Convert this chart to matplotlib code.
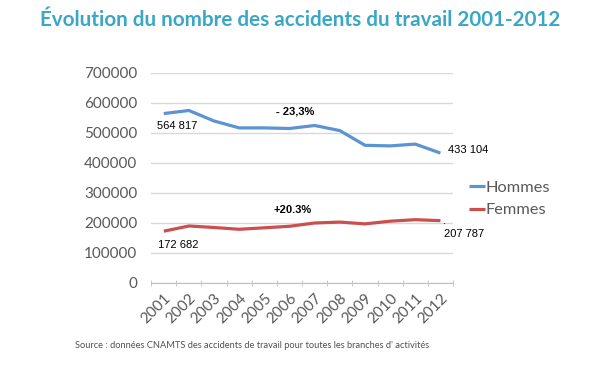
import matplotlib
matplotlib.use('Agg')
import matplotlib.pyplot as plt
import numpy as np

# données
annees = ['2001', '2002', '2003', '2004', '2005', '2006',
          '2007', '2008', '2009', '2010', '2011', '2012']
hommes = [564817, 575000, 540000, 517000, 517000, 515000,
          525000, 508000, 459000, 457000, 463000, 433104]
femmes = [172682, 190000, 185000, 179000, 184000, 189000,
          200000, 203000, 197000, 206000, 211000, 207787]
yticks = [0, 100000, 200000, 300000, 400000, 500000, 600000, 700000]

bleu = '#5b93d3'
rouge = '#c9504f'
gris = '#595959'
fonte = ['Lato', 'DejaVu Sans']
arial = ['Liberation Sans', 'DejaVu Sans']

fig = plt.figure(figsize=(6, 3.65), dpi=100)
ax = fig.add_axes([0.252, 0.2247, 0.503, 0.5753])

x = np.arange(len(annees))
ax.plot(x, hommes, color=bleu, lw=2.3, label='Hommes', solid_capstyle='butt')
ax.plot(x, femmes, color=rouge, lw=2.3, label='Femmes', solid_capstyle='butt')

ax.set_xlim(-0.5, len(annees) - 0.5)
ax.set_ylim(0, 700000)
ax.set_yticks(yticks)
ax.set_yticklabels([str(v) for v in yticks], family=fonte, fontsize=11, color=gris)
ax.yaxis.grid(True, color='#d9d9d9', lw=1)
ax.set_axisbelow(True)
ax.tick_params(axis='y', length=0, pad=10)

# graduations entre les catégories, étiquettes au centre
ax.set_xticks(x)
ax.set_xticklabels(annees, rotation=45, ha='right', va='top', rotation_mode='anchor',
                   family=fonte, fontsize=11, color=gris)
ax.set_xticks(np.arange(-0.5, len(annees)), minor=True)
ax.tick_params(axis='x', which='major', length=0, pad=6)
ax.tick_params(axis='x', which='minor', length=4, direction='inout', color='#bfbfbf')

for s in ['left', 'right', 'top']:
    ax.spines[s].set_visible(False)
ax.spines['bottom'].set_color('#bfbfbf')

# étiquettes des valeurs
ax.text(-0.26, hommes[0] - 42000, '564 817', family=arial, fontsize=8, va='center', ha='left')
ax.text(-0.22, femmes[0] - 45000, '172 682', family=arial, fontsize=8, va='center', ha='left')
ax.text(11.3, hommes[-1] + 10000, '433 104', family=arial, fontsize=8, va='center', ha='left')
ax.text(11.15, femmes[-1] - 46000, '207 787', family=arial, fontsize=8, va='center', ha='left')
ax.text(11.1, femmes[-1] - 12000, '.', family=arial, fontsize=8, va='baseline', ha='left')
ax.text(5.22, 572000, '- 23,3%', family=arial, fontsize=8, fontweight='bold', ha='center', va='center')
ax.text(5.14, 242000, '+20.3%', family=arial, fontsize=8, fontweight='bold', ha='center', va='center')

leg = ax.legend(loc='center left', bbox_to_anchor=(0.757, 0.455), bbox_transform=fig.transFigure,
                frameon=False, handlelength=1.0, handletextpad=0.0, labelspacing=0.5,
                prop={'family': fonte, 'size': 11.8})
for t in leg.get_texts():
    t.set_color(gris)

fig.text(0.5, 0.945, 'Évolution du nombre des accidents du travail 2001-2012',
         family=fonte, fontsize=14.9, fontweight='bold', color='#3aa7c7', ha='center', va='center')
fig.text(0.125, 0.053, "Source : données CNAMTS des accidents de travail pour toutes les branches d' activités",
         family=fonte, fontsize=6.7, color='#505050', ha='left', va='center')

fig.savefig('out.png', dpi=100)
